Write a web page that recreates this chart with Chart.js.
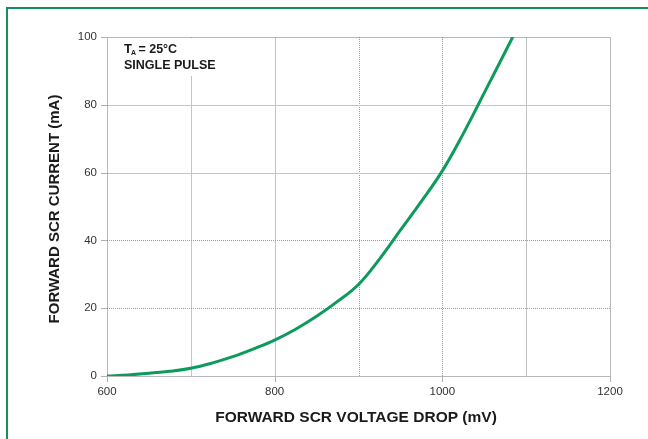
<!DOCTYPE html>
<html>
<head>
<meta charset="utf-8">
<script src="https://cdn.jsdelivr.net/npm/chart.js@4.4.0/dist/chart.umd.min.js"></script>
<style>
  html, body { margin: 0; padding: 0; background: #fff; }
  #wrap { position: relative; width: 648px; height: 439px; overflow: hidden; }
  #frame { position: absolute; left: 6px; top: 7px; width: 700px; height: 500px;
           border-top: 2px solid #14905c; border-left: 2px solid #14905c; box-sizing: border-box; }
  canvas { position: absolute; left: 0; top: 0; }
</style>
</head>
<body>
<div id="wrap">
  <canvas id="c" width="648" height="439"></canvas>
  <div id="frame"></div>
</div>
<script>
// Data
const voltageMV = [600, 625, 650, 675, 700, 725, 750, 775, 800, 825, 850, 875, 900, 925, 950, 975, 1000, 1025, 1050, 1084];
const currentMA = [0, 0.3, 0.8, 1.4, 2.3, 3.8, 5.7, 8.0, 10.6, 13.8, 17.6, 22.0, 27.0, 34.5, 43.0, 51.5, 60.5, 71.5, 83.5, 100];
const xTickLabels = [600, 800, 1000, 1200];
const yTickLabels = [0, 20, 40, 60, 80, 100];
const xGrid = [700, 800, 900, 1000, 1100];
const xGridDotted = [900, 1000];
const yGrid = [20, 40, 60, 80];
const yGridDotted = [20, 40];
const xTitle = 'FORWARD SCR VOLTAGE DROP (mV)';
const yTitle = 'FORWARD SCR CURRENT (mA)';
const noteLine2 = 'SINGLE PULSE';

const FONT = '"Liberation Sans", Arial, Helvetica, sans-serif';

const decorPlugin = {
  id: 'decor',
  beforeDatasetsDraw(chart) {
    const { ctx, chartArea: a, scales: { x, y } } = chart;
    ctx.save();
    ctx.lineWidth = 1;
    xGrid.forEach(v => {
      const px = Math.round(x.getPixelForValue(v)) + 0.5;
      const dotted = xGridDotted.includes(v);
      ctx.strokeStyle = dotted ? '#9a9aa8' : '#c4c4c4';
      ctx.setLineDash(dotted ? [1, 1] : []);
      ctx.beginPath(); ctx.moveTo(px, a.top); ctx.lineTo(px, a.bottom); ctx.stroke();
    });
    yGrid.forEach(v => {
      const py = Math.round(y.getPixelForValue(v)) + 0.5;
      const dotted = yGridDotted.includes(v);
      ctx.strokeStyle = dotted ? '#9a9aa8' : '#c4c4c4';
      ctx.setLineDash(dotted ? [1, 1] : []);
      ctx.beginPath(); ctx.moveTo(a.left, py); ctx.lineTo(a.right, py); ctx.stroke();
    });
    ctx.strokeStyle = '#707078';
    ctx.setLineDash([1, 1]);
    ctx.strokeRect(Math.round(a.left) + 0.5, Math.round(a.top) + 0.5, Math.round(a.right - a.left), Math.round(a.bottom - a.top));
    ctx.setLineDash([]);
    ctx.strokeStyle = '#b0b0b0';
    xTickLabels.forEach(v => {
      const px = Math.round(x.getPixelForValue(v)) + 0.5;
      ctx.beginPath(); ctx.moveTo(px, a.bottom); ctx.lineTo(px, a.bottom + 6); ctx.stroke();
    });
    yTickLabels.forEach(v => {
      const py = Math.round(y.getPixelForValue(v)) + 0.5;
      ctx.beginPath(); ctx.moveTo(a.left - 6, py); ctx.lineTo(a.left, py); ctx.stroke();
    });
    ctx.fillStyle = '#fff';
    ctx.fillRect(a.left + 1, a.top + 1, 112, 38);
    ctx.fillStyle = '#1a1a1a';
    ctx.textBaseline = 'alphabetic';
    ctx.textAlign = 'left';
    const tx = a.left + 17;
    ctx.font = 'bold 13px ' + FONT;
    ctx.fillText('T', tx, a.top + 16);
    const tw = ctx.measureText('T').width;
    ctx.font = 'bold 7px ' + FONT;
    ctx.fillText('A', tx + tw - 1, a.top + 18);
    ctx.font = 'bold 12.5px ' + FONT;
    ctx.fillText(' = 25\u00B0C', tx + tw + 3, a.top + 16);
    ctx.fillText(noteLine2, tx, a.top + 32);
    ctx.font = 'bold 15.5px ' + FONT;
    ctx.textAlign = 'center';
    ctx.textBaseline = 'middle';
    ctx.fillText(xTitle, 356, 418);
    ctx.save();
    ctx.translate(55, 209);
    ctx.rotate(-Math.PI / 2);
    ctx.font = 'bold 15px ' + FONT;
    ctx.fillText(yTitle, 0, 0);
    ctx.restore();
    ctx.restore();
  }
};

new Chart(document.getElementById('c'), {
  type: 'line',
  data: {
    datasets: [{
      data: voltageMV.map((v, i) => ({ x: v, y: currentMA[i] })),
      borderColor: '#0e9a5c',
      borderWidth: 3,
      pointRadius: 0,
      fill: false,
      tension: 0.4
    }]
  },
  options: {
    responsive: false,
    animation: false,
    devicePixelRatio: 1,
    layout: { padding: { left: 0, top: 37, right: 38, bottom: 0 } },
    plugins: { legend: { display: false }, tooltip: { enabled: false } },
    scales: {
      x: {
        type: 'linear', min: 600, max: 1200,
        afterFit(s) { s.height = 63; },
        afterBuildTicks(s) { s.ticks = xTickLabels.map(v => ({ value: v })); },
        grid: { display: false, drawTicks: false }, border: { display: false },
        ticks: { padding: 9, color: '#333', font: { family: FONT, size: 11.5 }, maxRotation: 0, autoSkip: false,
                 callback: v => String(v) }
      },
      y: {
        type: 'linear', min: 0, max: 100,
        afterFit(s) { s.width = 107; },
        afterBuildTicks(s) { s.ticks = yTickLabels.map(v => ({ value: v })); },
        grid: { display: false, drawTicks: false }, border: { display: false },
        ticks: { padding: 10, color: '#333', font: { family: FONT, size: 11.5 }, callback: v => String(v) }
      }
    }
  },
  plugins: [decorPlugin]
});
</script>
</body>
</html>
